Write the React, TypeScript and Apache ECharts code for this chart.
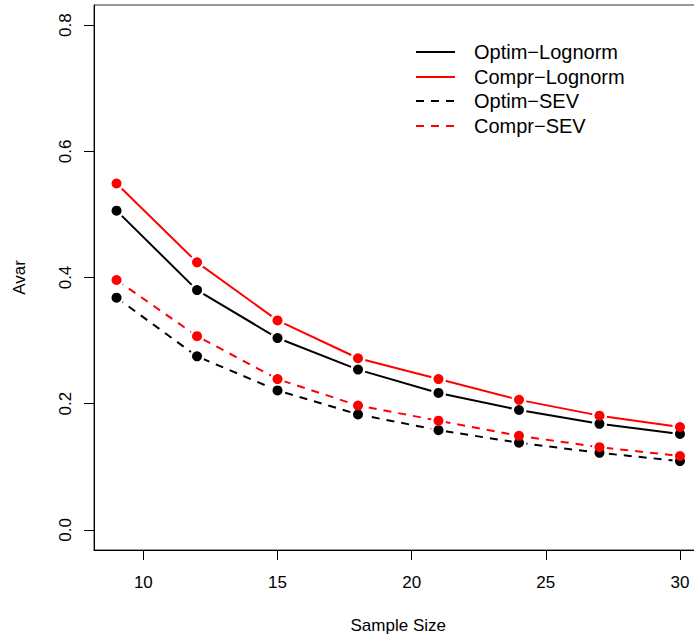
import React, { useEffect, useRef } from "react";
import * as echarts from "echarts";

const sampleSize = [9, 12, 15, 18, 21, 24, 27, 30];
const optimLognorm = [0.506, 0.38, 0.304, 0.254, 0.217, 0.19, 0.168, 0.152];
const comprLognorm = [0.549, 0.424, 0.332, 0.272, 0.239, 0.206, 0.181, 0.163];
const optimSEV = [0.368, 0.275, 0.221, 0.183, 0.158, 0.138, 0.122, 0.109];
const comprSEV = [0.396, 0.307, 0.239, 0.197, 0.173, 0.149, 0.131, 0.117];
const xTicks = [10, 15, 20, 25, 30];
const yTicks = [0, 0.2, 0.4, 0.6, 0.8];
const seriesNames = ["Optim\u2212Lognorm", "Compr\u2212Lognorm", "Optim\u2212SEV", "Compr\u2212SEV"];

const FONT = "'Liberation Sans', Arial, Helvetica, sans-serif";

export default function App() {
  const ref = useRef<HTMLDivElement>(null);
  useEffect(() => {
    if (!ref.current) return;
    const chart = echarts.init(ref.current, null, { renderer: "svg" });
    const defs = [
      { name: seriesNames[0], values: optimLognorm, color: "#000000", dashed: false },
      { name: seriesNames[1], values: comprLognorm, color: "#ff0000", dashed: false },
      { name: seriesNames[2], values: optimSEV, color: "#000000", dashed: true },
      { name: seriesNames[3], values: comprSEV, color: "#ff0000", dashed: true },
    ];
    const dash = [8, 7];
    const lineSeries = defs.map((d, i) => ({
      type: "line",
      name: d.name,
      data: sampleSize.map((x, j) => [x, d.values[j]]),
      symbol: "circle",
      symbolSize: 15,
      itemStyle: { color: "#ffffff", borderWidth: 0, opacity: 1 },
      lineStyle: { color: d.color, width: 2, type: d.dashed ? dash : "solid" },
      z: 2 + i,
      silent: true,
    }));
    const pointSeries = defs.map((d, i) => ({
      type: "scatter",
      name: d.name + " pts",
      data: sampleSize.map((x, j) => [x, d.values[j]]),
      symbol: "circle",
      symbolSize: 10,
      itemStyle: { color: d.color, opacity: 1 },
      z: 10 + i,
      silent: true,
    }));
    const legendX0 = 416;
    const legendX1 = 455;
    const legendTextX = 474;
    const legendY = [52, 77, 101, 126];
    const legendGraphics: any[] = [];
    defs.forEach((d, i) => {
      legendGraphics.push({
        type: "line",
        shape: { x1: legendX0, y1: legendY[i], x2: legendX1, y2: legendY[i] },
        style: { stroke: d.color, lineWidth: 2, lineDash: d.dashed ? dash : null },
        z: 100,
      });
      legendGraphics.push({
        type: "text",
        x: legendTextX,
        y: legendY[i],
        style: {
          text: d.name,
          font: `20px ${FONT}`,
          fill: "#000",
          verticalAlign: "middle",
          align: "left",
        },
        z: 100,
      });
    });
    chart.setOption({
      animation: false,
      backgroundColor: "#ffffff",
      textStyle: { fontFamily: FONT },
      grid: {
        left: 94,
        top: 5,
        width: 608.5,
        height: 545,
        show: true,
        borderColor: "#333",
        borderWidth: 1,
        backgroundColor: "transparent",
      },
      xAxis: {
        type: "value",
        min: 8.16,
        max: 30.84,
        name: "Sample Size",
        nameLocation: "middle",
        nameGap: 67,
        nameTextStyle: { fontSize: 17, color: "#000", fontFamily: FONT },
        axisLine: { show: true, onZero: false, lineStyle: { color: "#000", width: 1 } },
        axisTick: { show: true, inside: false, length: 10, lineStyle: { color: "#000" }, customValues: xTicks },
        axisLabel: {
          show: true,
          customValues: xTicks,
          fontSize: 17,
          color: "#000",
          margin: 24,
          fontFamily: FONT,
        },
        splitLine: { show: false },
      },
      yAxis: {
        type: "value",
        min: -0.032,
        max: 0.832,
        name: "Avar",
        nameLocation: "middle",
        nameRotate: 90,
        nameGap: 66,
        nameTextStyle: { fontSize: 17, color: "#000", fontFamily: FONT },
        axisLine: { show: true, onZero: false, lineStyle: { color: "#000", width: 1 } },
        axisTick: { show: true, inside: false, length: 10, lineStyle: { color: "#000" }, customValues: yTicks },
        axisLabel: {
          show: true,
          customValues: yTicks,
          rotate: 90,
          fontSize: 17,
          color: "#000",
          margin: 20,
          fontFamily: FONT,
          formatter: (v: number) => v.toFixed(1),
        },
        splitLine: { show: false },
      },
      graphic: legendGraphics,
      series: [...lineSeries, ...pointSeries],
    });
    return () => chart.dispose();
  }, []);
  return (
    <div style={{ position: "absolute", left: 0, top: 0, width: 694, height: 641, overflow: "hidden" }}>
      <div ref={ref} style={{ width: 712, height: 641 }} />
    </div>
  );
}
